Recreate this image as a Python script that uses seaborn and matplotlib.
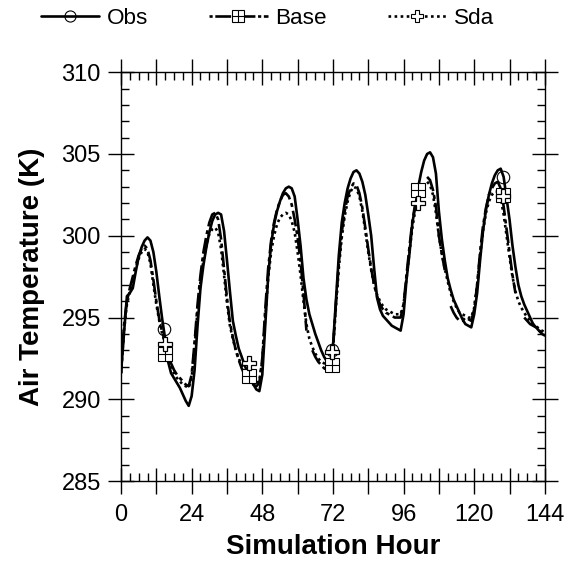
import numpy as np
import pandas as pd
import matplotlib
matplotlib.use('Agg')
import matplotlib.pyplot as plt
import seaborn as sns
from matplotlib.ticker import MultipleLocator, FuncFormatter
from matplotlib.lines import Line2D
from matplotlib.legend_handler import HandlerTuple

#%% data
nan = np.nan
hours = list(range(0, 145))

obs = [291.6, 294.0, 296.3, 296.5, 296.8, 297.8, 298.7, 299.3, 299.7, 299.9,
       299.7, 299.0, 297.8, 296.3, 294.9, 293.7, 292.3, 291.6, 291.3, 291.0,
       290.7, 290.3, 289.9, 289.6, 290.2, 291.8, 294.5, 296.8, 298.2, 299.3,
       300.2, 300.9, 301.3, 301.4, 301.3, 300.3, 298.5, 296.6, 294.8, 293.9,
       293.1, 292.6, 292.1, 291.6, 291.2, 290.9, 290.6, 290.5, 291.5, 294.5,
       297.5, 299.5, 300.7, 301.5, 302.1, 302.6, 302.9, 303.0, 302.9, 302.4,
       301.0, 299.4, 297.4, 296.1, 295.2, 294.6, 294.0, 293.5, 293.0, 292.6,
       292.3, 292.1, 293.2, 296.0, 298.8, 300.8, 302.0, 302.9, 303.5, 303.9,
       304.0, 303.8, 303.3, 302.5, 301.3, 300.0, 298.0, 296.2, 295.5, 295.1,
       294.9, 294.7, 294.5, 294.4, 294.3, 294.2, 295.2, 297.3, 298.9, 300.8,
       301.8, 303.0, 303.9, 304.6, 305.0, 305.1, 304.8, 303.8, 301.5, 299.8,
       298.5, 297.4, 296.7, 296.1, 295.7, 295.3, 294.9, 294.6, 294.5, 294.4,
       295.2, 296.5, 298.5, 300.3, 301.6, 302.5, 303.2, 303.7, 304.0, 304.1,
       303.6, 302.3, 301.0, 299.4, 298.1, 297.0, 296.3, 295.8, 295.4, 295.0,
       294.6, 294.4, 294.2, 294.0, 293.9]

base = [291.6, 294.5, 296.0, 296.8, 297.5, 298.2, 298.8, 299.2, 299.4, 299.2,
        298.5, 297.3, 296.0, 294.9, 294.1, 293.5, 292.8, 292.2, 291.8, 291.5,
        291.3, 291.1, 290.9, 290.8, 291.5, 293.5, 295.8, 297.6, 299.0, 300.0,
        300.8, 301.3, 301.4, 301.0, 299.8, 298.0, 296.2, 294.7, 293.8, 293.0,
        292.4, 291.9, 291.5, 291.2, 291.0, 290.9, 290.8, 291.0, 292.5, 295.5,
        298.0, 299.7, 300.8, 301.6, 302.1, 302.5, 302.6, 302.4, 301.9, 301.0,
        299.9, 298.4, 296.5, 294.2, nan, 293.0, 292.6, 292.3, 292.1, 291.9,
        291.8, 291.8, 293.0, 295.8, 298.3, 300.2, 301.5, 302.4, 302.9, 303.2,
        303.1, 302.6, 301.7, 300.5, 299.2, 298.0, 297.0, 296.3, 295.8, 295.5,
        295.3, 295.2, 295.1, 295.0, 295.0, 295.0, 295.8, 297.6, 299.3, 300.9,
        302.0, nan, nan, nan, 303.6, 303.4, 302.8, 301.8, 300.0, 298.9,
        297.9, nan, 295.7, 295.3, 295.0, 294.8, 294.8, 295.0, 294.9, 294.8,
        295.5, 297.0, 299.0, 300.6, 301.7, 302.5, 302.9, 303.2, 303.3, 302.9,
        301.8, 300.4, 299.0, 297.6, 296.5, nan, nan, 295.0, 294.8, 294.6,
        294.5, 294.4, 294.2, 294.1, 294.0]

sda = [291.6, 294.2, 295.8, 296.6, 297.3, 298.0, 298.6, 299.0, 299.2, 299.0,
       298.3, 297.0, 295.8, 294.8, 294.0, 293.4, 292.7, 292.0, 291.6, 291.3,
       291.1, 290.9, 290.8, 290.7, 291.3, 293.2, 295.4, 297.2, 298.5, 299.4,
       300.1, 300.4, 300.5, 300.2, 299.2, 297.6, 295.9, 294.5, 293.7, 293.0,
       292.5, 292.1, 291.8, 291.6, 291.3, 291.1, 291.0, 291.1, 292.4, 295.0,
       297.4, 299.0, 300.0, 300.7, 301.1, 301.3, 301.4, 301.3, 300.9, 300.2,
       299.0, 297.6, 296.0, 294.6, 293.7, 293.2, 292.8, 292.5, 292.3, 292.2,
       292.1, 292.2, 293.0, 295.6, 298.0, 299.9, 301.2, 302.1, 302.7, 303.0,
       302.9, 302.4, 301.5, 300.3, 299.0, 297.9, 297.0, 296.4, 296.0, 295.7,
       295.5, 295.4, 295.3, 295.2, 295.2, 295.2, 295.8, 297.4, 299.0, 300.5,
       301.6, nan, nan, nan, 303.3, 303.1, 302.5, 301.4, 300.0, 298.9,
       298.0, 297.2, 296.5, 296.0, 295.6, 295.3, 295.2, 295.1, 295.0, 295.0,
       295.6, 297.0, 298.8, 300.3, 301.4, 302.1, 302.5, 302.7, 302.7, 302.3,
       301.3, 300.0, 298.7, 297.5, 296.6, 296.0, 295.6, 295.3, 295.0, 294.8,
       294.6, 294.5, 294.3, 294.2, 294.1]

# marker points
obs_mk_hours = [14.7, 71.6, 129.9]
obs_mk_vals = [294.3, 293.0, 303.6]
base_mk_hours = [14.9, 43.6, 71.6, 100.8, 129.9]
base_mk_vals = [292.8, 291.4, 292.1, 302.8, 302.5]
sda_mk_hours = [14.9, 43.6, 71.6, 100.8, 129.9]
sda_mk_vals = [293.4, 292.2, 292.9, 302.0, 302.4]

#%% style
sns.set_style('ticks')
plt.rcParams['font.family'] = ['Liberation Sans', 'DejaVu Sans']
plt.rcParams['text.color'] = 'black'
plt.rcParams['axes.labelcolor'] = 'black'
plt.rcParams['xtick.color'] = 'black'
plt.rcParams['ytick.color'] = 'black'

base_dash = [6, 1.5, 1.5, 1.5]
sda_dash = [1, 1.3]


def segs(vals):
    d = pd.DataFrame({'hour': hours, 'T': vals})
    d['seg'] = d['T'].isna().cumsum()
    return d.dropna()


fig = plt.figure(figsize=(5.79, 5.64), dpi=100)
ax = fig.add_axes([0.209, 0.147, 0.732, 0.725])

lw = 1.9
sns.lineplot(data=segs(obs), x='hour', y='T', units='seg', estimator=None,
             color='black', lw=lw, ax=ax)
n0 = len(ax.lines)
sns.lineplot(data=segs(base), x='hour', y='T', units='seg', estimator=None,
             color='black', lw=lw, ax=ax)
for l in ax.lines[n0:]:
    l.set_dashes(base_dash)
n0 = len(ax.lines)
sns.lineplot(data=segs(sda), x='hour', y='T', units='seg', estimator=None,
             color='black', lw=lw, ax=ax)
for l in ax.lines[n0:]:
    l.set_dashes(sda_dash)

ax.plot(obs_mk_hours, obs_mk_vals, 'o', ms=9, mfc='none', mec='black', mew=0.8)
ax.plot(base_mk_hours, base_mk_vals, 's', ms=9.5, mfc='white', mec='black', mew=0.8)
ax.plot(base_mk_hours, base_mk_vals, '+', ms=9.5, mec='black', mew=0.8)
ax.plot(sda_mk_hours, sda_mk_vals, 'P', ms=10.5, mfc='white', mec='black', mew=0.9)

#%% axes
ax.set_xlim(0, 144)
ax.set_ylim(285, 310)
ax.xaxis.set_major_locator(MultipleLocator(12))
ax.xaxis.set_minor_locator(MultipleLocator(3))
ax.xaxis.set_major_formatter(FuncFormatter(lambda v, p: f'{int(v)}' if int(v) % 24 == 0 else ''))
ax.yaxis.set_major_locator(MultipleLocator(5))
ax.yaxis.set_minor_locator(MultipleLocator(1))
ax.tick_params(which='major', direction='inout', length=19, width=1,
               top=True, right=True, labelsize=17, color='black', labelcolor='black')
ax.tick_params(axis='x', which='major', pad=7)
ax.tick_params(axis='y', which='major', pad=5)
ax.tick_params(which='minor', direction='in', length=5.5, width=1,
               top=True, right=True, color='black')
for s in ax.spines.values():
    s.set_linewidth(1)
    s.set_color('black')

ax.set_xlabel('Simulation Hour', fontsize=20, fontweight='bold', labelpad=6, color='black')
ax.set_ylabel('Air Temperature (K)', fontsize=20, fontweight='bold', labelpad=12, color='black')

#%% legend
h_obs = Line2D([], [], color='black', lw=lw, marker='o', ms=8, mfc='none', mec='black', mew=0.8)
h_b1 = Line2D([], [], color='black', lw=lw, dashes=[1.2, 1.0, 6, 1], marker='s', ms=8,
              mfc='white', mec='black', mew=0.8)
h_b2 = Line2D([], [], lw=0, marker='+', ms=8, mec='black', mew=0.8)
h_sda = Line2D([], [], color='black', lw=lw, dashes=sda_dash, marker='P', ms=9,
               mfc='white', mec='black', mew=0.8)
leg = fig.legend([h_obs, (h_b1, h_b2), h_sda], ['Obs', 'Base', 'Sda'],
                 handler_map={tuple: HandlerTuple(ndivide=1)},
                 loc='upper center', bbox_to_anchor=(0.462, 1.022), ncol=3, frameon=False,
                 fontsize=16.2, handlelength=2.6, columnspacing=2.7, handletextpad=0.35)
for t in leg.get_texts():
    t.set_color('black')

fig.savefig('out.png', dpi=100)
